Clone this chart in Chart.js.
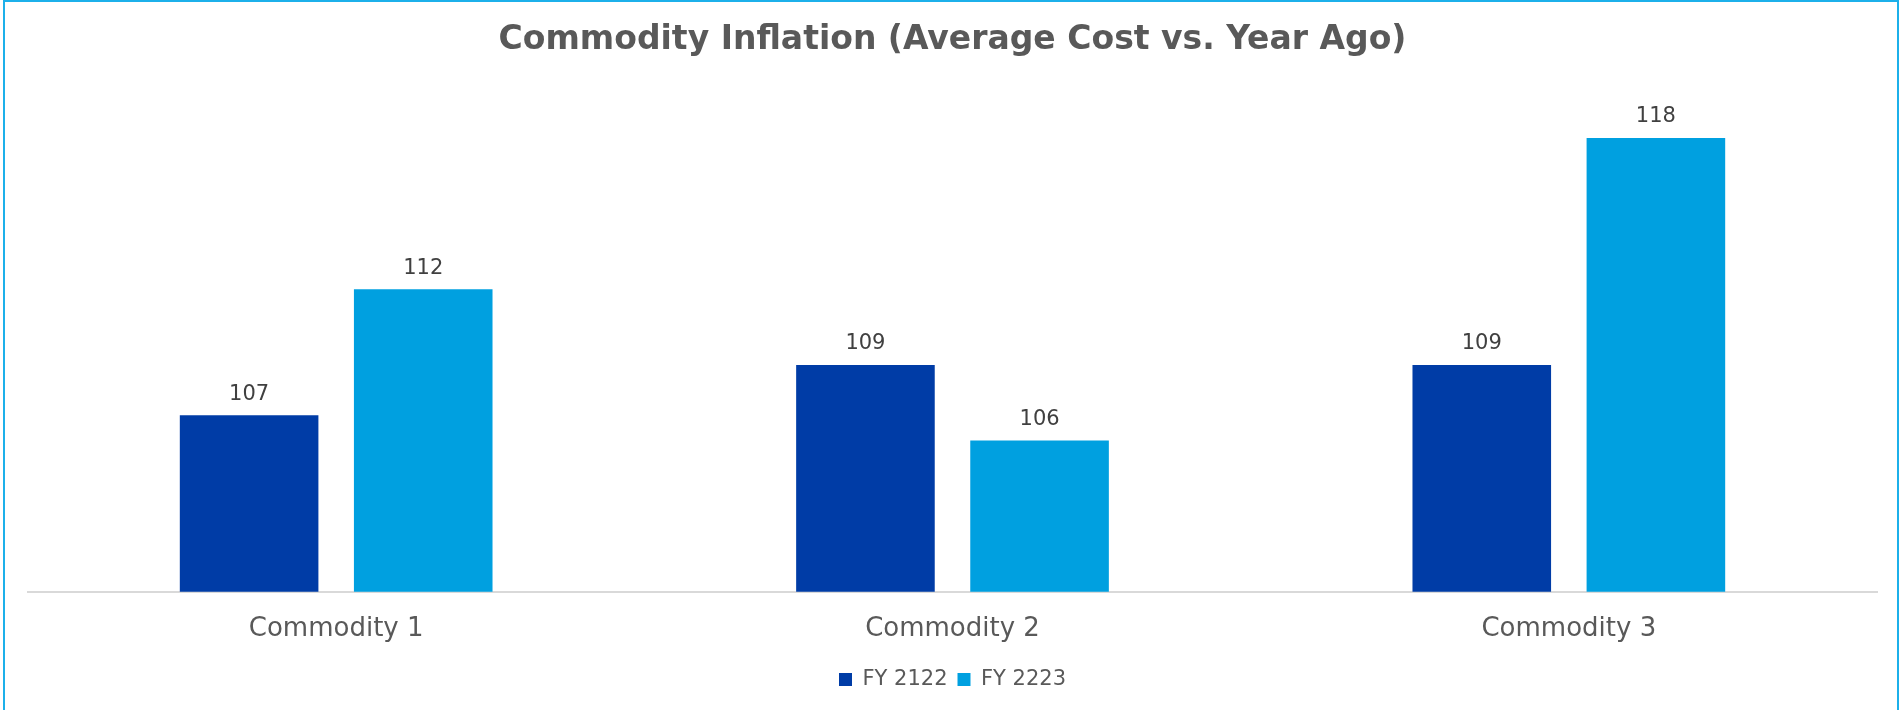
<!DOCTYPE html>
<html>
<head>
<meta charset="utf-8">
<script src="https://cdn.jsdelivr.net/npm/chart.js@4.4.1/dist/chart.umd.min.js"></script>
<style>
  html, body { margin: 0; padding: 0; background: #ffffff; }
  #wrap { position: absolute; left: 0; top: 0; width: 1902px; height: 710px; overflow: hidden; }
  #frame { position: absolute; left: 3px; top: 0; width: 1896px; height: 720px;
           border-left: 2px solid #1cb0ea; border-top: 2px solid #1cb0ea; border-right: 2px solid #1cb0ea; box-sizing: border-box; pointer-events: none; }
  canvas { position: absolute; left: 0; top: 0; }
</style>
</head>
<body>
<div id="wrap">
  <canvas id="c" width="1902" height="710"></canvas>
  <div id="frame"></div>
</div>
<script>
const categories = ["Commodity 1", "Commodity 2", "Commodity 3"];
const seriesNames = ["FY 2122", "FY 2223"];
const fy2122 = [107, 109, 109];
const fy2223 = [112, 106, 118];
const titleText = "Commodity Inflation (Average Cost vs. Year Ago)";

const FONT = "'DejaVu Sans', sans-serif";

const dataLabels = {
  id: 'dataLabels',
  afterDatasetsDraw(chart) {
    const ctx = chart.ctx;
    ctx.save();
    ctx.font = "400 21px " + FONT;
    ctx.fillStyle = "#404040";
    ctx.textAlign = "center";
    ctx.textBaseline = "middle";
    chart.data.datasets.forEach((ds, di) => {
      const meta = chart.getDatasetMeta(di);
      meta.data.forEach((bar, i) => {
        ctx.fillText(String(ds.data[i]), bar.x, bar.y - 21);
      });
    });
    ctx.restore();
  }
};

new Chart(document.getElementById('c'), {
  type: 'bar',
  data: {
    labels: categories,
    datasets: [
      { label: seriesNames[0], data: fy2122, backgroundColor: '#003ca6', borderWidth: 0 },
      { label: seriesNames[1], data: fy2223, backgroundColor: '#00a0e0', borderWidth: 0 }
    ]
  },
  options: {
    responsive: false,
    animation: false,
    events: [],
    categoryPercentage: 0.565,
    barPercentage: 0.796,
    layout: { padding: { left: 28, right: 25, top: 0, bottom: 10 } },
    plugins: {
      title: {
        display: true,
        text: titleText,
        color: '#595959',
        font: { family: FONT, size: 33, weight: '700', lineHeight: 1.2 },
        padding: { top: 21, bottom: 27 }
      },
      legend: {
        display: true,
        position: 'bottom',
        labels: {
          color: '#595959',
          font: { family: FONT, size: 21 },
          boxWidth: 13,
          boxHeight: 13,
          padding: 10
        }
      },
      tooltip: { enabled: false }
    },
    scales: {
      x: {
        grid: { display: false, drawTicks: false },
        border: { display: true, color: '#d9d9d9', width: 2 },
        ticks: { color: '#595959', font: { family: FONT, size: 26, lineHeight: 0.7 }, padding: 28 },
        afterFit(scale) { scale.height = scale.height - 7; }
      },
      y: {
        display: false,
        min: 100,
        max: 120
      }
    }
  },
  plugins: [dataLabels]
});
</script>
</body>
</html>
